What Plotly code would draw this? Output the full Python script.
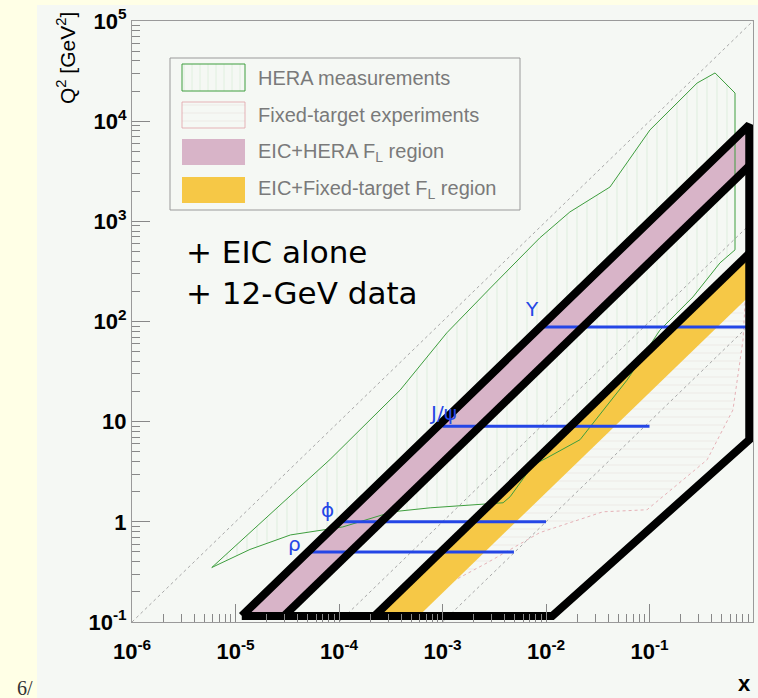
import math
import plotly.graph_objects as go

# ---------------------------------------------------------------- data ----
# axis ticks
X_TICKS = [1e-6, 1e-5, 1e-4, 1e-3, 1e-2, 1e-1, 1]
X_TICK_TEXT = ["10<sup>-6</sup>", "10<sup>-5</sup>", "10<sup>-4</sup>", "10<sup>-3</sup>",
               "10<sup>-2</sup>", "10<sup>-1</sup>", "1"]
Y_TICKS = [1e-1, 1, 10, 1e2, 1e3, 1e4, 1e5]
Y_TICK_TEXT = ["10<sup>-1</sup>", "1", "10", "10<sup>2</sup>", "10<sup>3</sup>",
               "10<sup>4</sup>", "10<sup>5</sup>"]

# HERA measured region (x, Q^2 in GeV^2)
HERA_X = [5.9e-6, 8.2e-5, 3.9e-4, 1.1e-3, 2.9e-3, 8.7e-3, 0.017, 0.0415, 0.101, 0.288,
          0.43, 0.67, 0.67, 0.48, 0.263, 0.126, 0.0607, 0.0213, 0.0102, 7.5e-3,
          4.5e-3, 3.85e-3, 7.6e-4, 3.3e-4, 1.09e-4, 3.4e-5, 1.38e-5, 5.9e-6]
HERA_Q2 = [0.35, 4.2, 20.7, 77, 216, 683, 1240, 2200, 8170, 24000,
           30300, 19100, 519, 385, 176, 82, 26, 6.6, 4.35, 3.7,
           1.78, 1.55, 1.38, 1.26, 0.89, 0.74, 0.53, 0.35]

# fixed-target measured region
FT_X = [1.0e-3, 1.18e-3, 2.7e-3, 8.7e-3, 0.0356, 0.0946, 0.36, 0.64, 0.80, 0.85, 1.0e-3]
FT_Q2 = [0.22, 0.246, 0.39, 0.78, 1.26, 1.32, 4.16, 13.1, 65, 200, 0.22]

# lines of constant Q^2/x (kinematic limits), ratio and lowest x
LIMIT_RATIO = [1e5, 1e3, 1e2]
LIMIT_XMIN = [1e-6, 1e-4, 1e-3]

# EIC coverage: outer boundary and the Q^2/x ratios of its diagonal edges
EIC_OUTLINE_X = [1.15e-5, 1.15e-2, 0.92, 0.92, 1.15e-5]
EIC_OUTLINE_Q2 = [0.115, 0.115, 6.6, 9200, 0.115]
EIC_Q2_MIN = 0.115
EIC_X_MAX = 0.92
HERA_FL_RATIO = (1e4, 3900)      # EIC+HERA F_L band
FT_FL_RATIO = (520, 195)         # EIC+fixed-target F_L band
INNER_RATIO = [3900, 520]

# vector-meson thresholds
VM_NAMES = ["ρ", "ϕ", "J/ψ", "Υ"]
VM_Q2 = [0.5, 1.0, 9.0, 88.0]
VM_X_LO = [5.2e-5, 1.0e-4, 1.0e-3, 9.3e-3]
VM_X_HI = [4.9e-3, 1.0e-2, 0.1, 0.92]

LEGEND_LABELS = ["HERA measurements", "Fixed-target experiments",
                 "EIC+HERA F<sub>L</sub> region", "EIC+Fixed-target F<sub>L</sub> region"]

# -------------------------------------------------------------- styles ----
SLIDE_BG = "#FFFFE6"
CANVAS_BG = "#F5F8F4"
GREEN = "#3E9E3E"
HATCH_GREEN = "rgba(160,210,160,0.45)"
FT_LINE = "rgba(225,160,168,0.8)"
HATCH_PINK = "rgba(215,190,190,0.45)"
PINK = "#D8B4C8"
YELLOW = "#F6C846"
BLUE = "#2446E6"
GRAY = "#9A9A9A"

W, H = 758, 698
ML, MR, MT, MB = 132, 5, 21, 76
PW, PH = W - ML - MR, H - MT - MB


def px_x(p):
    """pixel column -> paper x"""
    return (p - ML) / PW


def px_y(p):
    """pixel row -> paper y"""
    return (H - MB - p) / PH


fig = go.Figure()

# measured regions (hatched)
fig.add_trace(go.Scatter(x=HERA_X, y=HERA_Q2, mode="lines", fill="toself",
                         fillcolor="rgba(0,0,0,0)", line=dict(width=0),
                         fillpattern=dict(shape="|", fgcolor=HATCH_GREEN,
                                          bgcolor="rgba(0,0,0,0)", size=10, solidity=0.12),
                         hoverinfo="skip"))
fig.add_trace(go.Scatter(x=FT_X, y=FT_Q2, mode="lines", fill="toself",
                         fillcolor="rgba(0,0,0,0)", line=dict(width=0),
                         fillpattern=dict(shape="-", fgcolor=HATCH_PINK,
                                          bgcolor="rgba(0,0,0,0)", size=8, solidity=0.14),
                         hoverinfo="skip"))
fig.add_trace(go.Scatter(x=FT_X, y=FT_Q2, mode="lines",
                         line=dict(color=FT_LINE, width=1, dash="dot"), hoverinfo="skip"))

# constant Q^2/x lines
for ratio, xmin, dash in zip(LIMIT_RATIO, LIMIT_XMIN, ["dot", "3px,3px", "3px,3px"]):
    fig.add_trace(go.Scatter(x=[xmin, 1], y=[ratio * xmin, ratio], mode="lines",
                             line=dict(color="#A8A8A8", width=1, dash=dash),
                             hoverinfo="skip"))


# F_L bands
def band(r_hi, r_lo, x_max):
    xs = [EIC_Q2_MIN / r_hi, x_max, x_max, EIC_Q2_MIN / r_lo, EIC_Q2_MIN / r_hi]
    ys = [EIC_Q2_MIN, r_hi * x_max, r_lo * x_max, EIC_Q2_MIN, EIC_Q2_MIN]
    return xs, ys


bx, by = band(*HERA_FL_RATIO, EIC_X_MAX)
fig.add_trace(go.Scatter(x=bx, y=by, mode="lines", fill="toself", fillcolor=PINK,
                         line=dict(width=0), hoverinfo="skip"))
bx, by = band(*FT_FL_RATIO, 1.0)
fig.add_trace(go.Scatter(x=bx, y=by, mode="lines", fill="toself", fillcolor=YELLOW,
                         line=dict(width=0), hoverinfo="skip"))

# HERA outline on top of the bands
fig.add_trace(go.Scatter(x=HERA_X, y=HERA_Q2, mode="lines",
                         line=dict(color=GREEN, width=1), hoverinfo="skip"))

# vector-meson lines
for q2, lo, hi in zip(VM_Q2, VM_X_LO, VM_X_HI):
    fig.add_trace(go.Scatter(x=[lo, hi], y=[q2, q2], mode="lines",
                             line=dict(color=BLUE, width=3), hoverinfo="skip"))

# EIC coverage (thick black)
fig.add_trace(go.Scatter(x=EIC_OUTLINE_X, y=EIC_OUTLINE_Q2, mode="lines",
                         line=dict(color="black", width=8), hoverinfo="skip"))
for r in INNER_RATIO:
    fig.add_trace(go.Scatter(x=[EIC_Q2_MIN / r, EIC_X_MAX], y=[EIC_Q2_MIN, r * EIC_X_MAX],
                             mode="lines", line=dict(color="black", width=8),
                             hoverinfo="skip"))

# vector-meson labels, placed just above the left end of each line
LABEL_DX = [0.72, 0.77, 1.0, 0.78]
LABEL_DY = [1.2, 1.3, 1.36, 1.5]
annotations = []
for name, q2, lo, dx, dy in zip(VM_NAMES, VM_Q2, VM_X_LO, LABEL_DX, LABEL_DY):
    annotations.append(dict(x=math.log10(lo * dx), y=math.log10(q2 * dy), xref="x", yref="y",
                            text=name, showarrow=False, xanchor="center", yanchor="middle",
                            font=dict(family="DejaVu Sans", size=20, color=BLUE)))

# ------------------------------------------------------------- legend ----
LEG_ROWS = [(64, 91), (102, 128), (139, 165), (177, 203)]
SW_X0, SW_X1 = px_x(182), px_x(245)
shapes = [
    dict(type="rect", xref="paper", yref="paper", layer="below",
         x0=px_x(37), x1=px_x(758), y0=px_y(698), y1=px_y(5),
         fillcolor=CANVAS_BG, line=dict(width=0)),
    dict(type="rect", xref="paper", yref="paper", layer="below",
         x0=px_x(170), x1=px_x(520), y0=px_y(210), y1=px_y(58),
         fillcolor=CANVAS_BG, line=dict(color=GRAY, width=1)),
]
sw_styles = [
    dict(fillpattern=dict(shape="|", fgcolor=HATCH_GREEN, bgcolor="rgba(0,0,0,0)",
                          size=8, solidity=0.14), line=dict(color=GREEN, width=1)),
    dict(fillpattern=dict(shape="-", fgcolor=HATCH_PINK, bgcolor="rgba(0,0,0,0)",
                          size=8, solidity=0.14), line=dict(color=FT_LINE, width=1)),
    dict(fillcolor=PINK, line=dict(width=0)),
    dict(fillcolor=YELLOW, line=dict(width=0)),
]
for (top, bot), style, label in zip(LEG_ROWS, sw_styles, LEGEND_LABELS):
    y0, y1 = px_y(bot), px_y(top)
    kw = dict(style)
    kw.setdefault("fillcolor", "rgba(0,0,0,0)")
    fig.add_trace(go.Scatter(x=[SW_X0, SW_X1, SW_X1, SW_X0, SW_X0],
                             y=[y0, y0, y1, y1, y0], mode="lines", fill="toself",
                             xaxis="x2", yaxis="y2", hoverinfo="skip", **kw))
    annotations.append(dict(x=px_x(256), y=(y0 + y1) / 2, xref="paper", yref="paper",
                            text=label, showarrow=False, xanchor="left", yanchor="middle",
                            font=dict(family="Liberation Sans", size=20, color="#7A7A7A")))

# free text
TEXT_FONT = dict(family="DejaVu Sans", size=31, color="black")
annotations += [
    dict(x=px_x(184), y=px_y(252), xref="paper", yref="paper", text="+ EIC alone",
         showarrow=False, xanchor="left", yanchor="middle", font=TEXT_FONT),
    dict(x=px_x(184), y=px_y(293), xref="paper", yref="paper", text="+ 12-GeV data",
         showarrow=False, xanchor="left", yanchor="middle", font=TEXT_FONT),
    dict(x=px_x(66), y=px_y(58), xref="paper", yref="paper",
         text="Q<sup>2</sup> [GeV<sup>2</sup>]", textangle=-90, showarrow=False,
         xanchor="center", yanchor="middle",
         font=dict(family="Liberation Sans", size=21, color="black")),
    dict(x=px_x(744), y=px_y(683), xref="paper", yref="paper", text="<b>x</b>",
         showarrow=False, xanchor="center", yanchor="middle",
         font=dict(family="Liberation Sans", size=22, color="black")),
    dict(x=px_x(25), y=px_y(688), xref="paper", yref="paper", text="6/",
         showarrow=False, xanchor="center", yanchor="middle",
         font=dict(family="Liberation Serif", size=20, color="#333333")),
]

minor_x = [m * 10 ** e for e in range(-6, 0) for m in range(2, 10)]
minor_y = [m * 10 ** e for e in range(-1, 5) for m in range(2, 10)]
tickfont = dict(family="Liberation Sans", size=22, color="black", weight="bold")
axis_common = dict(type="log", showgrid=False, zeroline=False, showline=True, mirror=True,
                   linecolor=GRAY, linewidth=1, ticks="inside", ticklen=18, tickwidth=1,
                   tickcolor="#888888", tickfont=tickfont, tickmode="array")

fig.update_layout(
    width=W, height=H, margin=dict(l=ML, r=MR, t=MT, b=MB),
    paper_bgcolor=SLIDE_BG, plot_bgcolor=CANVAS_BG, showlegend=False,
    xaxis=dict(range=[-6, 0], tickvals=X_TICKS, ticktext=X_TICK_TEXT, ticklabelstandoff=10,
               minor=dict(ticks="inside", ticklen=8, tickcolor="#888888",
                          tickmode="array", tickvals=minor_x), **axis_common),
    yaxis=dict(range=[-1, 5], tickvals=Y_TICKS, ticktext=Y_TICK_TEXT,
               minor=dict(ticks="inside", ticklen=8, tickcolor="#888888",
                          tickmode="array", tickvals=minor_y), **axis_common),
    xaxis2=dict(overlaying="x", range=[0, 1], visible=False),
    yaxis2=dict(overlaying="y", range=[0, 1], visible=False),
    shapes=shapes, annotations=annotations,
)

fig.write_html("out.html")
